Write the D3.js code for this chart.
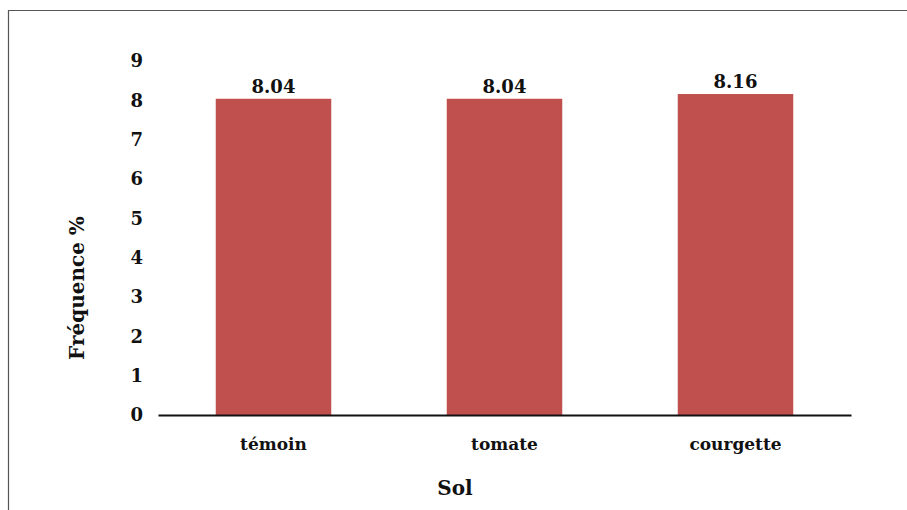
<!DOCTYPE html>
<html>
<head>
<meta charset="utf-8">
<script src="https://cdn.jsdelivr.net/npm/d3@7"></script>
<style>
  html, body { margin: 0; padding: 0; background: #fff; }
  svg { display: block; }
  svg text { font-family: "DejaVu Serif", "Liberation Serif", serif; font-weight: bold; fill: #111; }
</style>
</head>
<body>
<svg id="chart" width="907" height="510"></svg>
<script>
// Fréquence (%) par type de sol
const categories = ["témoin", "tomate", "courgette"];
const values = [8.04, 8.04, 8.16];
const yTicks = [0, 1, 2, 3, 4, 5, 6, 7, 8, 9];
const yTitle = "Fréquence %";
const xTitle = "Sol";

const svg = d3.select("#chart");

// outer frame (left and top edges visible)
svg.append("path")
  .attr("d", "M8.5,510 L8.5,10.5 L907,10.5")
  .attr("fill", "none")
  .attr("stroke", "#555")
  .attr("stroke-width", 1.2);

const left = 158, right = 851, bottom = 415;

const x = d3.scaleBand()
  .domain(categories)
  .range([left, right])
  .paddingInner(0.5)
  .paddingOuter(0.25);

const y = d3.scaleLinear()
  .domain([0, 9])
  .range([bottom, 61]);

// bars
svg.selectAll("rect.bar")
  .data(values)
  .join("rect")
  .attr("class", "bar")
  .attr("x", (d, i) => x(categories[i]))
  .attr("width", x.bandwidth())
  .attr("y", d => y(d))
  .attr("height", d => y(0) - y(d))
  .attr("fill", "#C0504D");

// value labels
svg.selectAll("text.val")
  .data(values)
  .join("text")
  .attr("class", "val")
  .attr("x", (d, i) => x(categories[i]) + x.bandwidth() / 2)
  .attr("y", d => y(d) - 6)
  .attr("text-anchor", "middle")
  .style("font-size", "18px")
  .text(d => d.toFixed(2));

// y axis (labels only)
const yAxis = d3.axisLeft(y).tickValues(yTicks).tickSize(0).tickPadding(15).tickFormat(d3.format("d"));
const gy = svg.append("g").attr("transform", `translate(${left},0)`).call(yAxis);
gy.select(".domain").remove();
gy.selectAll("text").style("font-size", "18px");

// x axis
const xAxis = d3.axisBottom(x).tickSize(0).tickPadding(23);
const gx = svg.append("g").attr("transform", `translate(0,${bottom})`).call(xAxis);
gx.select(".domain").attr("stroke", "#111").attr("stroke-width", 2);
gx.selectAll("text").style("font-size", "17px");

// axis titles
svg.append("text")
  .attr("x", 455)
  .attr("y", 495)
  .attr("text-anchor", "middle")
  .style("font-size", "20px")
  .text(xTitle);

svg.append("text")
  .attr("transform", "translate(84,288) rotate(-90)")
  .attr("text-anchor", "middle")
  .style("font-size", "20px")
  .text(yTitle);
</script>
</body>
</html>
